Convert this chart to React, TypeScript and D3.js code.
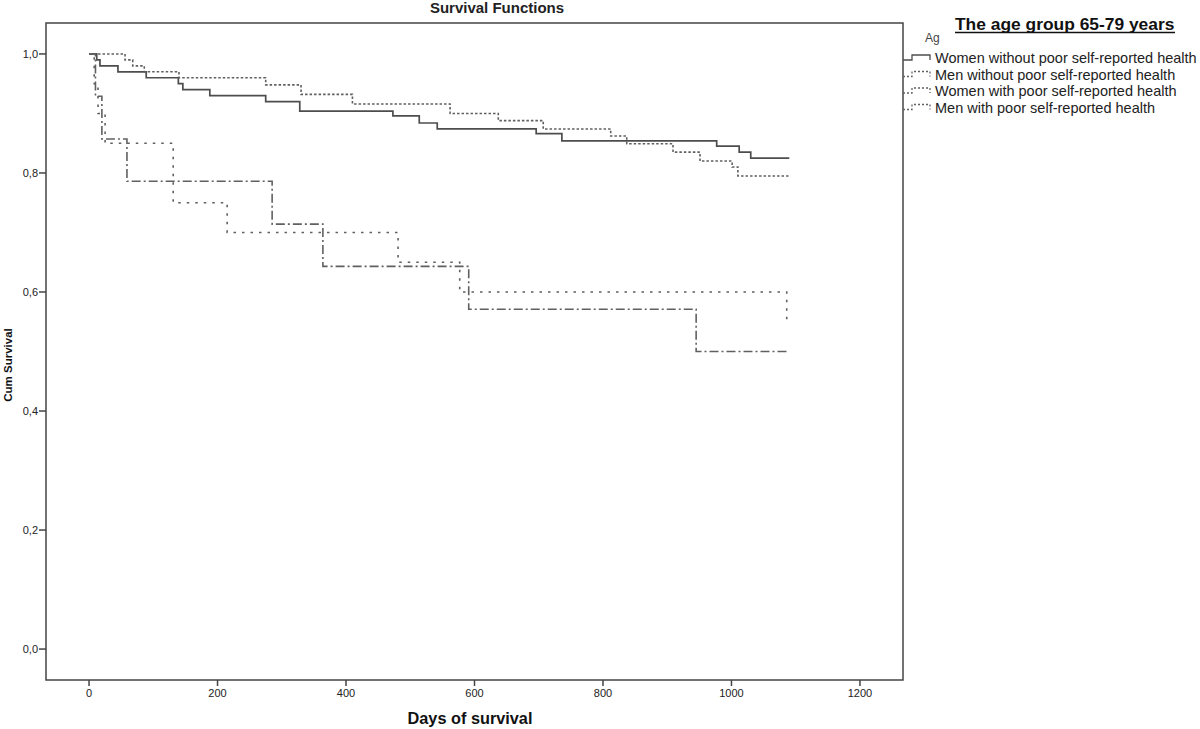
import React from "react";
import * as d3 from "d3";

// ---- data ----
const xTickValues = [0, 200, 400, 600, 800, 1000, 1200];
const yTickValues = [0, 0.2, 0.4, 0.6, 0.8, 1.0];

const womenWithoutDays = [0, 12, 17, 45, 89, 139, 146, 188, 275, 328, 473, 514, 542, 696, 736, 977, 1012, 1030, 1090];
const womenWithoutSurv = [1, 0.99, 0.98, 0.97, 0.96, 0.95, 0.94, 0.93, 0.92, 0.904, 0.896, 0.884, 0.874, 0.866, 0.854, 0.845, 0.835, 0.825, 0.825];

const menWithoutDays = [0, 56, 68, 86, 140, 275, 330, 410, 562, 637, 707, 812, 837, 909, 951, 1001, 1010, 1090];
const menWithoutSurv = [1, 0.99, 0.98, 0.97, 0.96, 0.948, 0.932, 0.916, 0.9, 0.888, 0.874, 0.862, 0.849, 0.835, 0.82, 0.81, 0.795, 0.795];

const womenPoorDays = [0, 8, 14, 25, 131, 215, 481, 577, 1086, 1090];
const womenPoorSurv = [1, 0.95, 0.9, 0.85, 0.75, 0.7, 0.65, 0.6, 0.55, 0.55];

const menPoorDays = [0, 10, 20, 59, 285, 364, 591, 945, 1090];
const menPoorSurv = [1, 0.929, 0.857, 0.786, 0.714, 0.643, 0.571, 0.5, 0.5];

const seriesNames = [
  "Women without poor self-reported health",
  "Men without poor self-reported health",
  "Women with poor self-reported health",
  "Men with poor self-reported health",
];

const FONT = "'Liberation Sans', Arial, Helvetica, sans-serif";

export default function App() {
  const left = 46, right = 903, top = 23, bottom = 680;
  const x = d3.scaleLinear().domain([-67, 1267]).range([left, right]);
  const y = d3.scaleLinear().domain([-0.052, 1.052]).range([bottom, top]);

  const line = d3
    .line<[number, number]>()
    .x((d) => x(d[0]))
    .y((d) => y(d[1]))
    .curve(d3.curveStepAfter);

  const zip = (a: number[], b: number[]) => a.map((v, i) => [v, b[i]] as [number, number]);

  const series = [
    { data: zip(womenWithoutDays, womenWithoutSurv), dash: undefined, color: "#4d4d4d", w: 1.7 },
    { data: zip(menWithoutDays, menWithoutSurv), dash: "2.5,2", color: "#606060", w: 1.6 },
    { data: zip(womenPoorDays, womenPoorSurv), dash: "2.5,6", color: "#606060", w: 1.6 },
    { data: zip(menPoorDays, menPoorSurv), dash: "9,3,2,3", color: "#606060", w: 1.6 },
  ];

  const fmt = (v: number) => d3.format(".1f")(v).replace(".", ",");
  const legendRowY = [58, 74.5, 91, 107.5];

  return (
    <svg
      width={1200}
      height={729}
      style={{ position: "absolute", left: 0, top: 0, background: "#fff" }}
      fontFamily={FONT}
    >
      <rect x={0} y={0} width={1200} height={729} fill="#fff" />
      {/* title */}
      <text x={497} y={13} textAnchor="middle" fontSize={15} fontWeight="bold" fill="#222">
        Survival Functions
      </text>

      {/* frame */}
      <rect x={left} y={top} width={right - left} height={bottom - top} fill="none" stroke="#444" strokeWidth={1.5} />

      {/* x ticks */}
      {xTickValues.map((t) => (
        <g key={"x" + t}>
          <line x1={x(t)} x2={x(t)} y1={bottom} y2={bottom + 6} stroke="#444" strokeWidth={1.5} />
          <text x={x(t)} y={bottom + 17} textAnchor="middle" fontSize={11} fill="#222">
            {t}
          </text>
        </g>
      ))}

      {/* y ticks */}
      {yTickValues.map((t) => (
        <g key={"y" + t}>
          <line x1={left - 7} x2={left} y1={y(t)} y2={y(t)} stroke="#444" strokeWidth={1.5} />
          <text x={left - 8} y={y(t) + 4} textAnchor="end" fontSize={11} fill="#222">
            {fmt(t)}
          </text>
        </g>
      ))}

      {/* axis labels */}
      <text x={470} y={724} textAnchor="middle" fontSize={16.3} fontWeight="bold" fill="#111">
        Days of survival
      </text>
      <text
        transform={`translate(12,365) rotate(-90)`}
        textAnchor="middle"
        fontSize={11.5}
        fontWeight="bold"
        fill="#111"
      >
        Cum Survival
      </text>

      {/* curves */}
      {series.map((s, i) => (
        <path
          key={"s" + i}
          d={line(s.data) || ""}
          fill="none"
          stroke={s.color}
          strokeWidth={s.w}
          strokeDasharray={s.dash}
        />
      ))}

      {/* legend */}
      <text x={955} y={30} fontSize={17.4} fontWeight="bold" fill="#111">
        The age group 65-79 years
      </text>
      <line x1={955} x2={1175} y1={32.5} y2={32.5} stroke="#111" strokeWidth={1.5} />
      <text x={925} y={42} fontSize={12} fill="#444">
        Ag
      </text>
      {series.map((s, i) => {
        const cy = legendRowY[i];
        return (
          <g key={"l" + i}>
            <path
              d={`M${right},${cy + 2} H${right + 9} V${cy - 3} H${right + 27} V${cy + 2}`}
              fill="none"
              stroke={s.color}
              strokeWidth={1.3}
              strokeDasharray={s.dash ? "2,2" : undefined}
            />
            <text x={935} y={cy + 5} fontSize={14.5} fill="#222">
              {seriesNames[i]}
            </text>
          </g>
        );
      })}
    </svg>
  );
}
